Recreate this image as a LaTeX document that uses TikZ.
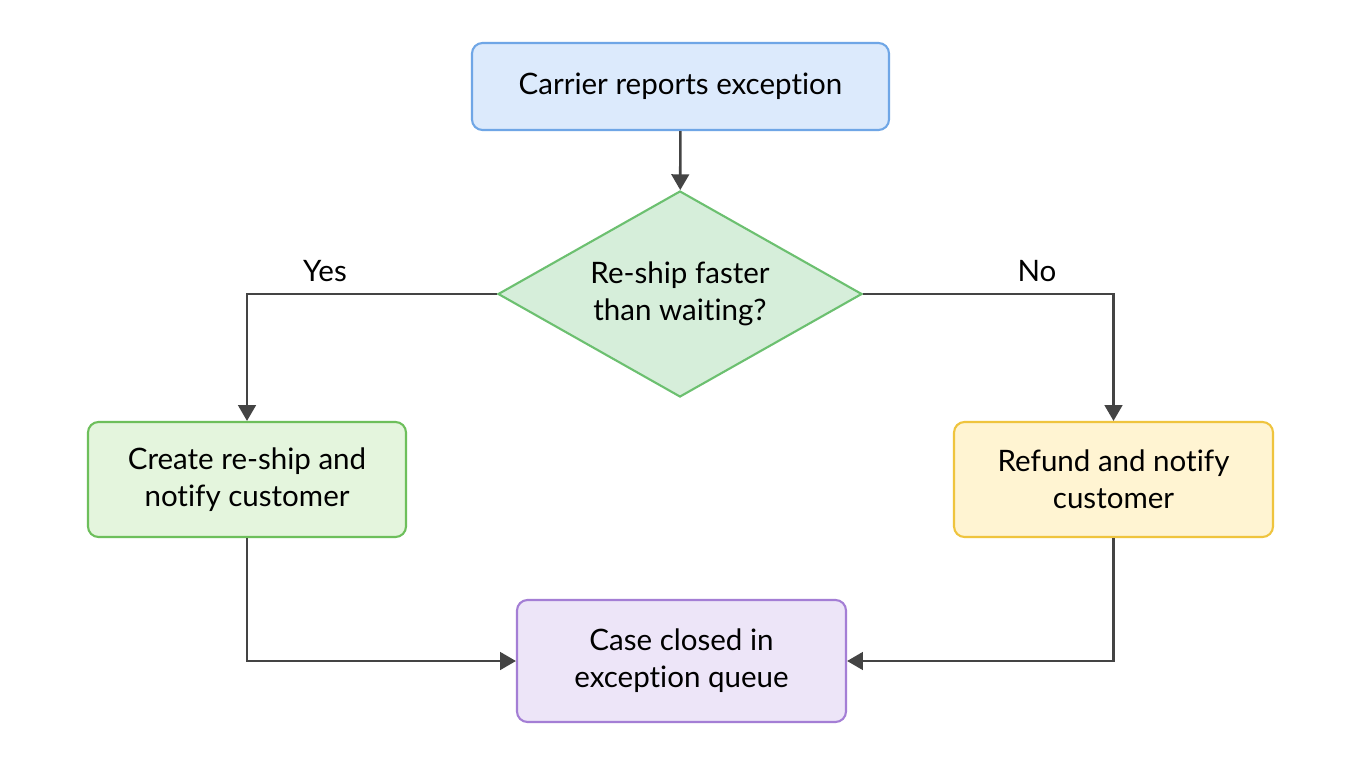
\documentclass[tikz,border=0pt]{standalone}
\usepackage{fontspec}
\setmainfont[Ligatures={NoCommon,NoRare}]{Lato}
\usetikzlibrary{shapes.geometric,arrows.meta}
\definecolor{blueF}{HTML}{DCEAFC}\definecolor{blueD}{HTML}{6FA6E6}
\definecolor{greenF}{HTML}{D6EEDA}\definecolor{greenD}{HTML}{6CC070}
\definecolor{lgreenF}{HTML}{E4F5DD}\definecolor{lgreenD}{HTML}{6DBF5B}
\definecolor{yellowF}{HTML}{FFF4D2}\definecolor{yellowD}{HTML}{EFC43E}
\definecolor{purpleF}{HTML}{EDE5F8}\definecolor{purpleD}{HTML}{A47ED5}
\definecolor{lineC}{HTML}{444444}
\tikzset{
  stepbox/.style={draw,rounded corners=6pt,line width=1.2pt,align=center,
    font=\fontsize{16.8}{21}\selectfont,inner sep=0pt},
  decision/.style={diamond,draw,line width=1.2pt,align=center,inner sep=0pt,
    font=\fontsize{16.8}{21}\selectfont,aspect=1.767,minimum width=7.28cm,minimum height=4.12cm},
  flow/.style={draw=lineC,line width=1.5pt,-{Triangle[length=9pt,width=10pt]}},
  lbl/.style={font=\fontsize{16.8}{21}\selectfont}
}
\begin{document}
\begin{tikzpicture}
  \useasboundingbox[fill=white] (0,0) rectangle (27.2,-15.36);
  \node[stepbox,fill=blueF,draw=blueD,minimum width=8.34cm,minimum height=1.74cm] (report) at (13.61,-1.73) {Carrier reports exception};
  \node[decision,fill=greenF,draw=greenD] (check) at (13.6,-5.88) {Re-ship faster\\than waiting?};
  \node[stepbox,fill=lgreenF,draw=lgreenD,minimum width=6.36cm,minimum height=2.3cm] (reship) at (4.94,-9.59) {Create re-ship and\\notify customer};
  \node[stepbox,fill=yellowF,draw=yellowD,minimum width=6.38cm,minimum height=2.3cm] (refund) at (22.27,-9.59) {Refund and notify\\customer};
  \node[stepbox,fill=purpleF,draw=purpleD,minimum width=6.58cm,minimum height=2.44cm] (closed) at (13.63,-13.22) {Case closed in\\exception queue};
  \node[lbl] (yes) at (6.5,-5.42) {Yes};
  \node[lbl] (no) at (20.74,-5.42) {No};
  \draw[flow] (report) -- (check);
  \draw[flow] (check.west) -| (reship.north);
  \draw[flow] (check.east) -| (refund.north);
  \draw[flow] (reship.south) |- (closed.west);
  \draw[flow] (refund.south) |- (closed.east);
\end{tikzpicture}
\end{document}
